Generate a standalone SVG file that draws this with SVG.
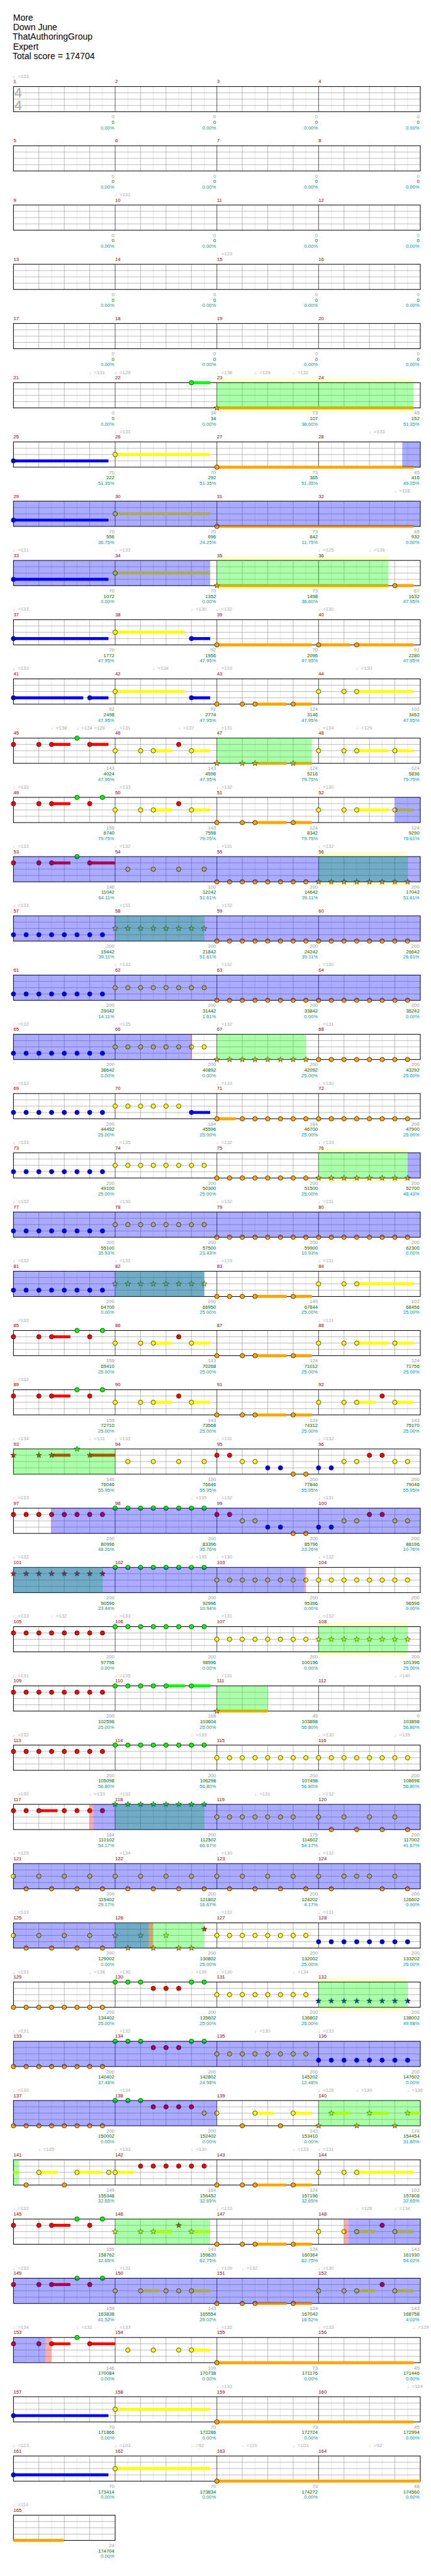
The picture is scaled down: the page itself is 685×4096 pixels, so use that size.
<svg xmlns="http://www.w3.org/2000/svg" xmlns:xlink="http://www.w3.org/1999/xlink" width="685" height="4096" viewBox="0 0 685 4096">
<style>
text{font-family:"Liberation Sans","DejaVu Sans",sans-serif;font-size:11.5px}
.t{font-size:21px;fill:#000}
.mn{fill:#8b0000}
.tp{fill:#aaa}
.s1,.s2,.s3{text-anchor:end}
.s1{fill:#999}.s2{fill:#006400}.s3{fill:#009a9a}
.ts{font-size:33px;fill:#aaa}
.g{fill:#0f0;stroke:#0f0}.r{fill:#f00;stroke:#f00}.y{fill:#ff0;stroke:#ff0}.b{fill:#00f;stroke:#00f}.o{fill:#ffa500;stroke:#ffa500}
circle{stroke:#000;stroke-width:1;r:5.3px}
use.n{stroke:#000;stroke-width:.8}
path.s{fill:none;stroke-width:7}
.og{fill:#0f0;fill-opacity:.33}.ob{fill:#00f;fill-opacity:.33}.or{fill:#f00;fill-opacity:.33}.pl{fill:#ffc}
</style>
<defs>
<path id="st" d="M0-7L1.65-2.27 6.66-2.16 2.66.87 4.11 5.66 0 2.8-4.11 5.66-2.66.87-6.66-2.16-1.65-2.27Z"/>
<g id="stf">
<rect x="32" width="968" height="60" fill="#fff"/>
<path fill="none" stroke="#ddd" stroke-width="1" d="M62.25 0V60M122.75 0V60M183.25 0V60M243.75 0V60M304.25 0V60M364.75 0V60M425.25 0V60M485.75 0V60M546.25 0V60M606.75 0V60M667.25 0V60M727.75 0V60M788.25 0V60M848.75 0V60M909.25 0V60M969.75 0V60"/>
<path fill="none" stroke="#999" stroke-width="1" d="M92.5 0V60M153 0V60M213.5 0V60M334.5 0V60M395 0V60M455.5 0V60M576.5 0V60M637 0V60M697.5 0V60M818.5 0V60M879 0V60M939.5 0V60M32 15H1000M32 30H1000M32 45H1000"/>
<path fill="none" stroke="#000" stroke-width="1" d="M274 0V60M516 0V60M758 0V60"/>
<rect x="32" width="968" height="60" fill="none" stroke="#000" stroke-width="1.5"/>
</g>
<g id="stf1">
<rect x="32" width="242" height="60" fill="#fff"/>
<path fill="none" stroke="#ddd" stroke-width="1" d="M62.25 0V60M122.75 0V60M183.25 0V60M243.75 0V60"/>
<path fill="none" stroke="#999" stroke-width="1" d="M92.5 0V60M153 0V60M213.5 0V60M32 15H274M32 30H274M32 45H274"/>
<rect x="32" width="242" height="60" fill="none" stroke="#000" stroke-width="1.5"/>
</g>
</defs>
<rect width="685" height="4096" fill="#fff"/>
<g transform="scale(0.668)">
<g id="header">
<text class="t" x="31" y="49">More</text>
<text class="t" x="31" y="72">Down June</text>
<text class="t" x="30" y="95">ThatAuthoringGroup</text>
<text class="t" x="31" y="118">Expert</text>
<text class="t" x="30" y="141">Total score = 174704</text>
</g>

<g id="r0" transform="translate(0,206)">
<use href="#stf"/>
<text class="ts" x="34" y="26">4</text><text class="ts" x="34" y="56">4</text>
<text class="tp" y="-21"><tspan x="31">♩=133</tspan></text>
<text class="mn" y="-8"><tspan x="32">1</tspan><tspan x="274">2</tspan><tspan x="516">3</tspan><tspan x="758">4</tspan></text>
<text class="s1" y="76"><tspan x="272">0</tspan><tspan x="514">0</tspan><tspan x="756">0</tspan><tspan x="998">0</tspan></text>
<text class="s2" y="89"><tspan x="272">0</tspan><tspan x="514">0</tspan><tspan x="756">0</tspan><tspan x="998">0</tspan></text>
<text class="s3" y="102"><tspan x="272">0.00%</tspan><tspan x="514">0.00%</tspan><tspan x="756">0.00%</tspan><tspan x="998">0.00%</tspan></text>
</g>

<g id="r1" transform="translate(0,347)">
<use href="#stf"/>
<text class="mn" y="-8"><tspan x="32">5</tspan><tspan x="274">6</tspan><tspan x="516">7</tspan><tspan x="758">8</tspan></text>
<text class="s1" y="76"><tspan x="272">0</tspan><tspan x="514">0</tspan><tspan x="756">0</tspan><tspan x="998">0</tspan></text>
<text class="s2" y="89"><tspan x="272">0</tspan><tspan x="514">0</tspan><tspan x="756">0</tspan><tspan x="998">0</tspan></text>
<text class="s3" y="102"><tspan x="272">0.00%</tspan><tspan x="514">0.00%</tspan><tspan x="756">0.00%</tspan><tspan x="998">0.00%</tspan></text>
</g>

<g id="r2" transform="translate(0,488)">
<use href="#stf"/>
<text class="tp" y="-21"><tspan x="273">♩=131</tspan></text>
<text class="mn" y="-8"><tspan x="32">9</tspan><tspan x="274">10</tspan><tspan x="516">11</tspan><tspan x="758">12</tspan></text>
<text class="s1" y="76"><tspan x="272">0</tspan><tspan x="514">0</tspan><tspan x="756">0</tspan><tspan x="998">0</tspan></text>
<text class="s2" y="89"><tspan x="272">0</tspan><tspan x="514">0</tspan><tspan x="756">0</tspan><tspan x="998">0</tspan></text>
<text class="s3" y="102"><tspan x="272">0.00%</tspan><tspan x="514">0.00%</tspan><tspan x="756">0.00%</tspan><tspan x="998">0.00%</tspan></text>
</g>

<g id="r3" transform="translate(0,629)">
<use href="#stf"/>
<text class="tp" y="-21"><tspan x="515">♩=133</tspan></text>
<text class="mn" y="-8"><tspan x="32">13</tspan><tspan x="274">14</tspan><tspan x="516">15</tspan><tspan x="758">16</tspan></text>
<text class="s1" y="76"><tspan x="272">0</tspan><tspan x="514">0</tspan><tspan x="756">0</tspan><tspan x="998">0</tspan></text>
<text class="s2" y="89"><tspan x="272">0</tspan><tspan x="514">0</tspan><tspan x="756">0</tspan><tspan x="998">0</tspan></text>
<text class="s3" y="102"><tspan x="272">0.00%</tspan><tspan x="514">0.00%</tspan><tspan x="756">0.00%</tspan><tspan x="998">0.00%</tspan></text>
</g>

<g id="r4" transform="translate(0,770)">
<use href="#stf"/>
<text class="mn" y="-8"><tspan x="32">17</tspan><tspan x="274">18</tspan><tspan x="516">19</tspan><tspan x="758">20</tspan></text>
<text class="s1" y="76"><tspan x="272">0</tspan><tspan x="514">0</tspan><tspan x="756">0</tspan><tspan x="998">0</tspan></text>
<text class="s2" y="89"><tspan x="272">0</tspan><tspan x="514">0</tspan><tspan x="756">0</tspan><tspan x="998">0</tspan></text>
<text class="s3" y="102"><tspan x="272">0.00%</tspan><tspan x="514">0.00%</tspan><tspan x="756">0.00%</tspan><tspan x="998">0.00%</tspan></text>
</g>

<g id="r5" transform="translate(0,911)">
<rect class="pl" x="516" y="-10" width="468" height="80"/>
<use href="#stf"/>
<g class="g"><path class="s" d="M455.5 0H500"/><circle cx="455.5"/></g>
<g class="o" transform="translate(0,60)"><path class="s" d="M516 0H984"/><use class="n" href="#st" x="516"/></g>
<rect class="og" x="516" width="468" height="60"/>
<text class="tp" y="-21"><tspan x="212.5">♩=131</tspan><tspan x="273">♩=129</tspan><tspan x="515">♩=138</tspan><tspan x="605.75">♩=129</tspan><tspan x="696.5">♩=132</tspan></text>
<text class="mn" y="-8"><tspan x="32">21</tspan><tspan x="274">22</tspan><tspan x="516">23</tspan><tspan x="758">24</tspan></text>
<text class="s1" y="76"><tspan x="272">0</tspan><tspan x="514">34</tspan><tspan x="756">73</tspan><tspan x="998">45</tspan></text>
<text class="s2" y="89"><tspan x="272">0</tspan><tspan x="514">34</tspan><tspan x="756">107</tspan><tspan x="998">152</tspan></text>
<text class="s3" y="102"><tspan x="272">0.00%</tspan><tspan x="514">0.00%</tspan><tspan x="756">38.60%</tspan><tspan x="998">51.35%</tspan></text>
</g>

<g id="r6" transform="translate(0,1052)">
<use href="#stf"/>
<g class="b" transform="translate(0,45)"><path class="s" d="M32 0H258"/><circle cx="32"/></g>
<g class="y" transform="translate(0,30)"><path class="s" d="M274 0H500"/><circle cx="274"/></g>
<g class="o" transform="translate(0,60)"><path class="s" d="M516 0H984"/><circle cx="516"/></g>
<rect class="ob" x="957" width="43" height="60"/>
<text class="tp" y="-21"><tspan x="273">♩=131</tspan><tspan x="878">♩=133</tspan></text>
<text class="mn" y="-8"><tspan x="32">25</tspan><tspan x="274">26</tspan><tspan x="516">27</tspan><tspan x="758">28</tspan></text>
<text class="s1" y="76"><tspan x="272">70</tspan><tspan x="514">70</tspan><tspan x="756">73</tspan><tspan x="998">45</tspan></text>
<text class="s2" y="89"><tspan x="272">222</tspan><tspan x="514">292</tspan><tspan x="756">365</tspan><tspan x="998">416</tspan></text>
<text class="s3" y="102"><tspan x="272">51.35%</tspan><tspan x="514">51.35%</tspan><tspan x="756">51.35%</tspan><tspan x="998">49.25%</tspan></text>
</g>

<g id="r7" transform="translate(0,1193)">
<use href="#stf"/>
<g class="b" transform="translate(0,45)"><path class="s" d="M32 0H258"/><circle cx="32"/></g>
<g class="y" transform="translate(0,30)"><path class="s" d="M274 0H500"/><circle cx="274"/></g>
<g class="o" transform="translate(0,60)"><path class="s" d="M516 0H984"/><circle cx="516"/></g>
<rect class="ob" x="32" width="968" height="60"/>
<text class="tp" y="-21"><tspan x="938.5">♩=128</tspan></text>
<text class="mn" y="-8"><tspan x="32">29</tspan><tspan x="274">30</tspan><tspan x="516">31</tspan><tspan x="758">32</tspan></text>
<text class="s1" y="76"><tspan x="272">70</tspan><tspan x="514">70</tspan><tspan x="756">73</tspan><tspan x="998">45</tspan></text>
<text class="s2" y="89"><tspan x="272">556</tspan><tspan x="514">696</tspan><tspan x="756">842</tspan><tspan x="998">932</tspan></text>
<text class="s3" y="102"><tspan x="272">36.75%</tspan><tspan x="514">24.25%</tspan><tspan x="756">11.75%</tspan><tspan x="998">0.00%</tspan></text>
</g>

<g id="r8" transform="translate(0,1334)">
<rect class="pl" x="516" y="-10" width="408" height="80"/>
<use href="#stf"/>
<g class="b" transform="translate(0,45)"><path class="s" d="M32 0H258"/><circle cx="32"/></g>
<g class="y" transform="translate(0,30)"><path class="s" d="M274 0H500"/><circle cx="274"/></g>
<g class="o" transform="translate(0,60)"><path class="s" d="M516 0H924M939.5 0H984"/><use class="n" href="#st" x="516"/><circle cx="939.5"/></g>
<rect class="ob" x="32" width="468" height="60"/>
<rect class="og" x="516" width="408" height="60"/>
<text class="tp" y="-21"><tspan x="31">♩=131</tspan><tspan x="273">♩=133</tspan><tspan x="757">♩=125</tspan><tspan x="878">♩=136</tspan></text>
<text class="mn" y="-8"><tspan x="32">33</tspan><tspan x="274">34</tspan><tspan x="516">35</tspan><tspan x="758">36</tspan></text>
<text class="s1" y="76"><tspan x="272">70</tspan><tspan x="514">70</tspan><tspan x="756">73</tspan><tspan x="998">67</tspan></text>
<text class="s2" y="89"><tspan x="272">1072</tspan><tspan x="514">1352</tspan><tspan x="756">1498</tspan><tspan x="998">1632</tspan></text>
<text class="s3" y="102"><tspan x="272">0.00%</tspan><tspan x="514">0.00%</tspan><tspan x="756">38.60%</tspan><tspan x="998">47.95%</tspan></text>
</g>

<g id="r9" transform="translate(0,1475)">
<use href="#stf"/>
<g class="b" transform="translate(0,45)"><path class="s" d="M32 0H258M455.5 0H500"/><circle cx="32"/><circle cx="455.5"/></g>
<g class="y" transform="translate(0,30)"><path class="s" d="M274 0H440"/><circle cx="274"/></g>
<g class="o" transform="translate(0,60)"><path class="s" d="M516 0H742M758 0H833.5M848.75 0H984"/><circle cx="516"/><circle cx="758"/><circle cx="848.75"/></g>
<text class="tp" y="-21"><tspan x="31">♩=133</tspan><tspan x="454.5">♩=130</tspan><tspan x="515">♩=132</tspan><tspan x="757">♩=130</tspan></text>
<text class="mn" y="-8"><tspan x="32">37</tspan><tspan x="274">38</tspan><tspan x="516">39</tspan><tspan x="758">40</tspan></text>
<text class="s1" y="76"><tspan x="272">70</tspan><tspan x="514">92</tspan><tspan x="756">70</tspan><tspan x="998">92</tspan></text>
<text class="s2" y="89"><tspan x="272">1772</tspan><tspan x="514">1956</tspan><tspan x="756">2096</tspan><tspan x="998">2280</tspan></text>
<text class="s3" y="102"><tspan x="272">47.95%</tspan><tspan x="514">47.95%</tspan><tspan x="756">47.95%</tspan><tspan x="998">47.95%</tspan></text>
</g>

<g id="r10" transform="translate(0,1616)">
<use href="#stf"/>
<g class="b" transform="translate(0,45)"><path class="s" d="M32 0H198M213.5 0H258M455.5 0H500"/><circle cx="32"/><circle cx="213.5"/><circle cx="455.5"/></g>
<g class="y" transform="translate(0,30)"><path class="s" d="M274 0H440M848.75 0H984"/><circle cx="274"/><circle cx="758"/><circle cx="818.5"/><circle cx="848.75"/></g>
<g class="o" transform="translate(0,60)"><path class="s" d="M606.75 0H682M697.5 0H742"/><circle cx="516"/><circle cx="576.5"/><circle cx="606.75"/><circle cx="697.5"/></g>
<text class="tp" y="-21"><tspan x="31">♩=133</tspan><tspan x="363.75">♩=134</tspan><tspan x="515">♩=133</tspan><tspan x="847.75">♩=130</tspan></text>
<text class="mn" y="-8"><tspan x="32">41</tspan><tspan x="274">42</tspan><tspan x="516">43</tspan><tspan x="758">44</tspan></text>
<text class="s1" y="76"><tspan x="272">92</tspan><tspan x="514">92</tspan><tspan x="756">124</tspan><tspan x="998">102</tspan></text>
<text class="s2" y="89"><tspan x="272">2498</tspan><tspan x="514">2774</tspan><tspan x="756">3146</tspan><tspan x="998">3452</tspan></text>
<text class="s3" y="102"><tspan x="272">47.95%</tspan><tspan x="514">47.95%</tspan><tspan x="756">47.95%</tspan><tspan x="998">47.95%</tspan></text>
</g>

<g id="r11" transform="translate(0,1757)">
<use href="#stf"/>
<g class="g"><circle cx="183.25"/></g>
<g class="r" transform="translate(0,15)"><path class="s" d="M122.75 0H167.5M213.5 0H258"/><circle cx="32"/><circle cx="92.5"/><circle cx="122.75"/><circle cx="213.5"/><circle cx="425.25"/></g>
<g class="y" transform="translate(0,30)"><path class="s" d="M364.75 0H409.5M455.5 0H500M848.75 0H924M939.5 0H984"/><circle cx="274"/><circle cx="334.5"/><circle cx="364.75"/><circle cx="455.5"/><circle cx="758"/><circle cx="818.5"/><circle cx="848.75"/><circle cx="939.5"/></g>
<g class="o" transform="translate(0,60)"><path class="s" d="M606.75 0H682M697.5 0H742"/><use class="n" href="#st" x="516"/><use class="n" href="#st" x="576.5"/><use class="n" href="#st" x="606.75"/><use class="n" href="#st" x="697.5"/></g>
<rect class="og" x="516" width="226" height="60"/>
<text class="tp" y="-21"><tspan x="121.75">♩=138</tspan><tspan x="182.25">♩=124</tspan><tspan x="212.5">♩=128</tspan><tspan x="273">♩=131</tspan><tspan x="424.25">♩=137</tspan><tspan x="515">♩=131</tspan><tspan x="757">♩=134</tspan><tspan x="847.75">♩=129</tspan></text>
<text class="mn" y="-8"><tspan x="32">45</tspan><tspan x="274">46</tspan><tspan x="516">47</tspan><tspan x="758">48</tspan></text>
<text class="s1" y="76"><tspan x="272">143</tspan><tspan x="514">143</tspan><tspan x="756">124</tspan><tspan x="998">124</tspan></text>
<text class="s2" y="89"><tspan x="272">4024</tspan><tspan x="514">4596</tspan><tspan x="756">5216</tspan><tspan x="998">5836</tspan></text>
<text class="s3" y="102"><tspan x="272">47.95%</tspan><tspan x="514">47.95%</tspan><tspan x="756">79.75%</tspan><tspan x="998">79.75%</tspan></text>
</g>

<g id="r12" transform="translate(0,1898)">
<use href="#stf"/>
<g class="g"><circle cx="183.25"/><circle cx="243.75"/></g>
<g class="r" transform="translate(0,15)"><path class="s" d="M122.75 0H167.5"/><circle cx="32"/><circle cx="92.5"/><circle cx="122.75"/><circle cx="213.5"/><circle cx="425.25"/></g>
<g class="y" transform="translate(0,30)"><path class="s" d="M364.75 0H409.5M455.5 0H500M848.75 0H924M939.5 0H984"/><circle cx="274"/><circle cx="334.5"/><circle cx="364.75"/><circle cx="455.5"/><circle cx="758"/><circle cx="818.5"/><circle cx="848.75"/><circle cx="939.5"/></g>
<g class="o" transform="translate(0,60)"><path class="s" d="M606.75 0H682M697.5 0H742"/><circle cx="516"/><circle cx="576.5"/><circle cx="606.75"/><circle cx="697.5"/></g>
<rect class="ob" x="939.5" width="60.5" height="60"/>
<text class="tp" y="-21"><tspan x="31">♩=132</tspan><tspan x="273">♩=133</tspan><tspan x="515">♩=132</tspan><tspan x="757">♩=130</tspan></text>
<text class="mn" y="-8"><tspan x="32">49</tspan><tspan x="274">50</tspan><tspan x="516">51</tspan><tspan x="758">52</tspan></text>
<text class="s1" y="76"><tspan x="272">159</tspan><tspan x="514">143</tspan><tspan x="756">124</tspan><tspan x="998">124</tspan></text>
<text class="s2" y="89"><tspan x="272">6740</tspan><tspan x="514">7598</tspan><tspan x="756">8342</tspan><tspan x="998">9290</tspan></text>
<text class="s3" y="102"><tspan x="272">79.75%</tspan><tspan x="514">79.75%</tspan><tspan x="756">79.75%</tspan><tspan x="998">76.61%</tspan></text>
</g>

<g id="r13" transform="translate(0,2039)">
<rect class="pl" x="758" y="-10" width="212" height="80"/>
<use href="#stf"/>
<g class="g"><circle cx="183.25"/></g>
<g class="r" transform="translate(0,15)"><path class="s" d="M122.75 0H167.5M213.5 0H274"/><circle cx="32"/><circle cx="92.5"/><circle cx="122.75"/><circle cx="213.5"/></g>
<g class="y" transform="translate(0,30)"><circle cx="304.25"/><circle cx="364.75"/><circle cx="425.25"/><circle cx="485.75"/></g>
<g class="o" transform="translate(0,60)"><circle cx="516"/><circle cx="546.25"/><circle cx="576.5"/><circle cx="606.75"/><circle cx="637"/><circle cx="667.25"/><circle cx="697.5"/><circle cx="727.75"/><use class="n" href="#st" x="758"/><use class="n" href="#st" x="788.25"/><use class="n" href="#st" x="818.5"/><use class="n" href="#st" x="848.75"/><use class="n" href="#st" x="879"/><use class="n" href="#st" x="909.25"/><use class="n" href="#st" x="939.5"/><use class="n" href="#st" x="969.75"/></g>
<rect class="og" x="758" width="212" height="60"/>
<rect class="ob" x="32" width="968" height="60"/>
<text class="tp" y="-21"><tspan x="31">♩=133</tspan><tspan x="273">♩=132</tspan><tspan x="515">♩=131</tspan><tspan x="757">♩=132</tspan></text>
<text class="mn" y="-8"><tspan x="32">53</tspan><tspan x="274">54</tspan><tspan x="516">55</tspan><tspan x="758">56</tspan></text>
<text class="s1" y="76"><tspan x="272">146</tspan><tspan x="514">100</tspan><tspan x="756">200</tspan><tspan x="998">200</tspan></text>
<text class="s2" y="89"><tspan x="272">11042</tspan><tspan x="514">12242</tspan><tspan x="756">14642</tspan><tspan x="998">17042</tspan></text>
<text class="s3" y="102"><tspan x="272">64.11%</tspan><tspan x="514">51.61%</tspan><tspan x="756">39.11%</tspan><tspan x="998">51.61%</tspan></text>
</g>

<g id="r14" transform="translate(0,2180)">
<use href="#stf"/>
<g class="b" transform="translate(0,45)"><circle cx="32"/><circle cx="62.25"/><circle cx="92.5"/><circle cx="122.75"/><circle cx="153"/><circle cx="183.25"/><circle cx="213.5"/><circle cx="243.75"/></g>
<g class="y" transform="translate(0,30)"><use class="n" href="#st" x="274"/><use class="n" href="#st" x="304.25"/><use class="n" href="#st" x="334.5"/><use class="n" href="#st" x="364.75"/><use class="n" href="#st" x="395"/><use class="n" href="#st" x="425.25"/><use class="n" href="#st" x="455.5"/><use class="n" href="#st" x="485.75"/></g>
<g class="o" transform="translate(0,60)"><circle cx="516"/><circle cx="546.25"/><circle cx="576.5"/><circle cx="606.75"/><circle cx="637"/><circle cx="667.25"/><circle cx="697.5"/><circle cx="727.75"/><circle cx="758"/><circle cx="788.25"/><circle cx="818.5"/><circle cx="848.75"/><circle cx="879"/><circle cx="909.25"/><circle cx="939.5"/><circle cx="969.75"/></g>
<rect class="og" x="274" width="212" height="60"/>
<rect class="ob" x="32" width="968" height="60"/>
<text class="tp" y="-21"><tspan x="31">♩=133</tspan><tspan x="273">♩=131</tspan><tspan x="515">♩=132</tspan></text>
<text class="mn" y="-8"><tspan x="32">57</tspan><tspan x="274">58</tspan><tspan x="516">59</tspan><tspan x="758">60</tspan></text>
<text class="s1" y="76"><tspan x="272">200</tspan><tspan x="514">200</tspan><tspan x="756">200</tspan><tspan x="998">200</tspan></text>
<text class="s2" y="89"><tspan x="272">19442</tspan><tspan x="514">21842</tspan><tspan x="756">24242</tspan><tspan x="998">26642</tspan></text>
<text class="s3" y="102"><tspan x="272">39.11%</tspan><tspan x="514">51.61%</tspan><tspan x="756">39.11%</tspan><tspan x="998">26.61%</tspan></text>
</g>

<g id="r15" transform="translate(0,2321)">
<use href="#stf"/>
<g class="b" transform="translate(0,45)"><circle cx="32"/><circle cx="62.25"/><circle cx="92.5"/><circle cx="122.75"/><circle cx="153"/><circle cx="183.25"/><circle cx="213.5"/><circle cx="243.75"/></g>
<g class="y" transform="translate(0,30)"><circle cx="274"/><circle cx="304.25"/><circle cx="334.5"/><circle cx="364.75"/><circle cx="395"/><circle cx="425.25"/><circle cx="455.5"/><circle cx="485.75"/></g>
<g class="o" transform="translate(0,60)"><circle cx="516"/><circle cx="546.25"/><circle cx="576.5"/><circle cx="606.75"/><circle cx="637"/><circle cx="667.25"/><circle cx="697.5"/><circle cx="727.75"/><circle cx="758"/><circle cx="788.25"/><circle cx="818.5"/><circle cx="848.75"/><circle cx="879"/><circle cx="909.25"/><circle cx="939.5"/><circle cx="969.75"/></g>
<rect class="ob" x="32" width="968" height="60"/>
<text class="tp" y="-21"><tspan x="273">♩=133</tspan><tspan x="515">♩=132</tspan><tspan x="757">♩=130</tspan></text>
<text class="mn" y="-8"><tspan x="32">61</tspan><tspan x="274">62</tspan><tspan x="516">63</tspan><tspan x="758">64</tspan></text>
<text class="s1" y="76"><tspan x="272">200</tspan><tspan x="514">200</tspan><tspan x="756">200</tspan><tspan x="998">200</tspan></text>
<text class="s2" y="89"><tspan x="272">29042</tspan><tspan x="514">31442</tspan><tspan x="756">33842</tspan><tspan x="998">36242</tspan></text>
<text class="s3" y="102"><tspan x="272">14.11%</tspan><tspan x="514">1.61%</tspan><tspan x="756">0.00%</tspan><tspan x="998">0.00%</tspan></text>
</g>

<g id="r16" transform="translate(0,2462)">
<use href="#stf"/>
<g class="b" transform="translate(0,45)"><circle cx="32"/><circle cx="62.25"/><circle cx="92.5"/><circle cx="122.75"/><circle cx="153"/><circle cx="183.25"/><circle cx="213.5"/><circle cx="243.75"/></g>
<g class="y" transform="translate(0,30)"><circle cx="274"/><circle cx="304.25"/><circle cx="334.5"/><circle cx="364.75"/><circle cx="395"/><circle cx="425.25"/><circle cx="455.5"/><circle cx="485.75"/></g>
<g class="o" transform="translate(0,60)"><use class="n" href="#st" x="516"/><use class="n" href="#st" x="546.25"/><use class="n" href="#st" x="576.5"/><use class="n" href="#st" x="606.75"/><use class="n" href="#st" x="637"/><use class="n" href="#st" x="667.25"/><use class="n" href="#st" x="697.5"/><use class="n" href="#st" x="727.75"/><circle cx="758"/><circle cx="788.25"/><circle cx="818.5"/><circle cx="848.75"/><circle cx="879"/><circle cx="909.25"/><circle cx="939.5"/><circle cx="969.75"/></g>
<rect class="ob" x="32" width="423.5" height="60"/>
<rect class="or" x="454.5" width="2" height="60"/>
<rect class="og" x="516" width="212" height="60"/>
<text class="tp" y="-21"><tspan x="31">♩=132</tspan><tspan x="273">♩=135</tspan><tspan x="515">♩=132</tspan><tspan x="757">♩=131</tspan></text>
<text class="mn" y="-8"><tspan x="32">65</tspan><tspan x="274">66</tspan><tspan x="516">67</tspan><tspan x="758">68</tspan></text>
<text class="s1" y="76"><tspan x="272">200</tspan><tspan x="514">200</tspan><tspan x="756">200</tspan><tspan x="998">200</tspan></text>
<text class="s2" y="89"><tspan x="272">38642</tspan><tspan x="514">40892</tspan><tspan x="756">42092</tspan><tspan x="998">43292</tspan></text>
<text class="s3" y="102"><tspan x="272">0.00%</tspan><tspan x="514">0.00%</tspan><tspan x="756">25.00%</tspan><tspan x="998">25.00%</tspan></text>
</g>

<g id="r17" transform="translate(0,2603)">
<use href="#stf"/>
<g class="b" transform="translate(0,45)"><path class="s" d="M455.5 0H500"/><circle cx="32"/><circle cx="62.25"/><circle cx="92.5"/><circle cx="122.75"/><circle cx="153"/><circle cx="183.25"/><circle cx="213.5"/><circle cx="243.75"/><circle cx="455.5"/></g>
<g class="y" transform="translate(0,30)"><circle cx="274"/><circle cx="304.25"/><circle cx="334.5"/><circle cx="364.75"/><circle cx="395"/><circle cx="425.25"/></g>
<g class="o" transform="translate(0,60)"><path class="s" d="M516 0H560.6"/><circle cx="516"/><circle cx="576.5"/><circle cx="606.75"/><circle cx="637"/><circle cx="667.25"/><circle cx="697.5"/><circle cx="727.75"/><circle cx="758"/><circle cx="788.25"/><circle cx="818.5"/><circle cx="848.75"/><circle cx="879"/><circle cx="909.25"/><circle cx="939.5"/><circle cx="969.75"/></g>
<text class="tp" y="-21"><tspan x="31">♩=132</tspan><tspan x="515">♩=133</tspan><tspan x="757">♩=130</tspan></text>
<text class="mn" y="-8"><tspan x="32">69</tspan><tspan x="274">70</tspan><tspan x="516">71</tspan><tspan x="758">72</tspan></text>
<text class="s1" y="76"><tspan x="272">200</tspan><tspan x="514">184</tspan><tspan x="756">184</tspan><tspan x="998">200</tspan></text>
<text class="s2" y="89"><tspan x="272">44492</tspan><tspan x="514">45596</tspan><tspan x="756">46700</tspan><tspan x="998">47900</tspan></text>
<text class="s3" y="102"><tspan x="272">25.00%</tspan><tspan x="514">25.00%</tspan><tspan x="756">25.00%</tspan><tspan x="998">25.00%</tspan></text>
</g>

<g id="r18" transform="translate(0,2744)">
<rect class="pl" x="758" y="-10" width="212" height="80"/>
<use href="#stf"/>
<g class="b" transform="translate(0,45)"><circle cx="32"/><circle cx="62.25"/><circle cx="92.5"/><circle cx="122.75"/><circle cx="153"/><circle cx="183.25"/><circle cx="213.5"/><circle cx="243.75"/></g>
<g class="y" transform="translate(0,30)"><circle cx="274"/><circle cx="304.25"/><circle cx="334.5"/><circle cx="364.75"/><circle cx="395"/><circle cx="425.25"/><circle cx="455.5"/><circle cx="485.75"/></g>
<g class="o" transform="translate(0,60)"><circle cx="516"/><circle cx="546.25"/><circle cx="576.5"/><circle cx="606.75"/><circle cx="637"/><circle cx="667.25"/><circle cx="697.5"/><circle cx="727.75"/><use class="n" href="#st" x="758"/><use class="n" href="#st" x="788.25"/><use class="n" href="#st" x="818.5"/><use class="n" href="#st" x="848.75"/><use class="n" href="#st" x="879"/><use class="n" href="#st" x="909.25"/><use class="n" href="#st" x="939.5"/><use class="n" href="#st" x="969.75"/></g>
<rect class="og" x="758" width="212" height="60"/>
<rect class="ob" x="970" width="30" height="60"/>
<text class="tp" y="-21"><tspan x="31">♩=133</tspan><tspan x="273">♩=135</tspan><tspan x="515">♩=132</tspan><tspan x="757">♩=133</tspan></text>
<text class="mn" y="-8"><tspan x="32">73</tspan><tspan x="274">74</tspan><tspan x="516">75</tspan><tspan x="758">76</tspan></text>
<text class="s1" y="76"><tspan x="272">200</tspan><tspan x="514">200</tspan><tspan x="756">200</tspan><tspan x="998">200</tspan></text>
<text class="s2" y="89"><tspan x="272">49100</tspan><tspan x="514">50300</tspan><tspan x="756">51500</tspan><tspan x="998">52700</tspan></text>
<text class="s3" y="102"><tspan x="272">25.00%</tspan><tspan x="514">25.00%</tspan><tspan x="756">25.00%</tspan><tspan x="998">48.43%</tspan></text>
</g>

<g id="r19" transform="translate(0,2885)">
<use href="#stf"/>
<g class="b" transform="translate(0,45)"><circle cx="32"/><circle cx="62.25"/><circle cx="92.5"/><circle cx="122.75"/><circle cx="153"/><circle cx="183.25"/><circle cx="213.5"/><circle cx="243.75"/></g>
<g class="y" transform="translate(0,30)"><circle cx="274"/><circle cx="304.25"/><circle cx="334.5"/><circle cx="364.75"/><circle cx="395"/><circle cx="425.25"/><circle cx="455.5"/><circle cx="485.75"/></g>
<g class="o" transform="translate(0,60)"><circle cx="516"/><circle cx="546.25"/><circle cx="576.5"/><circle cx="606.75"/><circle cx="637"/><circle cx="667.25"/><circle cx="697.5"/><circle cx="727.75"/><circle cx="758"/><circle cx="788.25"/><circle cx="818.5"/><circle cx="848.75"/><circle cx="879"/><circle cx="909.25"/><circle cx="939.5"/><circle cx="969.75"/></g>
<rect class="ob" x="32" width="968" height="60"/>
<text class="tp" y="-21"><tspan x="31">♩=132</tspan><tspan x="273">♩=130</tspan><tspan x="515">♩=132</tspan><tspan x="757">♩=131</tspan></text>
<text class="mn" y="-8"><tspan x="32">77</tspan><tspan x="274">78</tspan><tspan x="516">79</tspan><tspan x="758">80</tspan></text>
<text class="s1" y="76"><tspan x="272">200</tspan><tspan x="514">200</tspan><tspan x="756">200</tspan><tspan x="998">200</tspan></text>
<text class="s2" y="89"><tspan x="272">55100</tspan><tspan x="514">57500</tspan><tspan x="756">59900</tspan><tspan x="998">62300</tspan></text>
<text class="s3" y="102"><tspan x="272">35.93%</tspan><tspan x="514">23.43%</tspan><tspan x="756">10.93%</tspan><tspan x="998">0.00%</tspan></text>
</g>

<g id="r20" transform="translate(0,3026)">
<use href="#stf"/>
<g class="b" transform="translate(0,45)"><circle cx="32"/><circle cx="62.25"/><circle cx="92.5"/><circle cx="122.75"/><circle cx="153"/><circle cx="183.25"/><circle cx="213.5"/><circle cx="243.75"/></g>
<g class="y" transform="translate(0,30)"><path class="s" d="M848.75 0H984"/><use class="n" href="#st" x="274"/><use class="n" href="#st" x="304.25"/><use class="n" href="#st" x="334.5"/><use class="n" href="#st" x="364.75"/><use class="n" href="#st" x="395"/><use class="n" href="#st" x="425.25"/><use class="n" href="#st" x="455.5"/><use class="n" href="#st" x="485.75"/><circle cx="758"/><circle cx="818.5"/><circle cx="848.75"/></g>
<g class="o" transform="translate(0,60)"><path class="s" d="M606.75 0H682M697.5 0H742"/><circle cx="516"/><circle cx="546.25"/><circle cx="576.5"/><circle cx="606.75"/><circle cx="697.5"/></g>
<rect class="og" x="274" width="212" height="60"/>
<rect class="ob" x="32" width="454" height="60"/>
<text class="tp" y="-21"><tspan x="31">♩=132</tspan><tspan x="273">♩=131</tspan><tspan x="515">♩=133</tspan><tspan x="757">♩=131</tspan></text>
<text class="mn" y="-8"><tspan x="32">81</tspan><tspan x="274">82</tspan><tspan x="516">83</tspan><tspan x="758">84</tspan></text>
<text class="s1" y="76"><tspan x="272">200</tspan><tspan x="514">200</tspan><tspan x="756">149</tspan><tspan x="998">102</tspan></text>
<text class="s2" y="89"><tspan x="272">64700</tspan><tspan x="514">66950</tspan><tspan x="756">67844</tspan><tspan x="998">68456</tspan></text>
<text class="s3" y="102"><tspan x="272">0.00%</tspan><tspan x="514">25.00%</tspan><tspan x="756">25.00%</tspan><tspan x="998">25.00%</tspan></text>
</g>

<g id="r21" transform="translate(0,3167)">
<use href="#stf"/>
<g class="g"><circle cx="183.25"/><circle cx="243.75"/></g>
<g class="r" transform="translate(0,15)"><path class="s" d="M122.75 0H167.5"/><circle cx="32"/><circle cx="92.5"/><circle cx="122.75"/><circle cx="213.5"/><circle cx="425.25"/></g>
<g class="y" transform="translate(0,30)"><path class="s" d="M364.75 0H409.5M455.5 0H500M848.75 0H924M939.5 0H984"/><circle cx="274"/><circle cx="334.5"/><circle cx="364.75"/><circle cx="455.5"/><circle cx="758"/><circle cx="818.5"/><circle cx="848.75"/><circle cx="939.5"/></g>
<g class="o" transform="translate(0,60)"><path class="s" d="M606.75 0H682M697.5 0H742"/><circle cx="516"/><circle cx="576.5"/><circle cx="606.75"/><circle cx="697.5"/></g>
<text class="tp" y="-21"><tspan x="31">♩=132</tspan><tspan x="757">♩=131</tspan></text>
<text class="mn" y="-8"><tspan x="32">85</tspan><tspan x="274">86</tspan><tspan x="516">87</tspan><tspan x="758">88</tspan></text>
<text class="s1" y="76"><tspan x="272">159</tspan><tspan x="514">143</tspan><tspan x="756">124</tspan><tspan x="998">124</tspan></text>
<text class="s2" y="89"><tspan x="272">69410</tspan><tspan x="514">70268</tspan><tspan x="756">71012</tspan><tspan x="998">71756</tspan></text>
<text class="s3" y="102"><tspan x="272">25.00%</tspan><tspan x="514">25.00%</tspan><tspan x="756">25.00%</tspan><tspan x="998">25.00%</tspan></text>
</g>

<g id="r22" transform="translate(0,3308)">
<use href="#stf"/>
<g class="g"><circle cx="183.25"/><circle cx="243.75"/></g>
<g class="r" transform="translate(0,15)"><path class="s" d="M122.75 0H167.5"/><circle cx="32"/><circle cx="92.5"/><circle cx="122.75"/><circle cx="213.5"/><circle cx="425.25"/><circle cx="909.25"/></g>
<g class="y" transform="translate(0,30)"><path class="s" d="M364.75 0H409.5M455.5 0H500M848.75 0H893.5M939.5 0H984"/><circle cx="274"/><circle cx="334.5"/><circle cx="364.75"/><circle cx="455.5"/><circle cx="758"/><circle cx="818.5"/><circle cx="848.75"/><circle cx="939.5"/></g>
<g class="o" transform="translate(0,60)"><path class="s" d="M606.75 0H682M697.5 0H742"/><circle cx="516"/><circle cx="576.5"/><circle cx="606.75"/><circle cx="697.5"/></g>
<text class="tp" y="-21"><tspan x="31">♩=132</tspan></text>
<text class="mn" y="-8"><tspan x="32">89</tspan><tspan x="274">90</tspan><tspan x="516">91</tspan><tspan x="758">92</tspan></text>
<text class="s1" y="76"><tspan x="272">159</tspan><tspan x="514">143</tspan><tspan x="756">124</tspan><tspan x="998">143</tspan></text>
<text class="s2" y="89"><tspan x="272">72710</tspan><tspan x="514">73568</tspan><tspan x="756">74312</tspan><tspan x="998">75170</tspan></text>
<text class="s3" y="102"><tspan x="272">25.00%</tspan><tspan x="514">25.00%</tspan><tspan x="756">25.00%</tspan><tspan x="998">25.00%</tspan></text>
</g>

<g id="r23" transform="translate(0,3449)">
<use href="#stf"/>
<g class="g"><use class="n" href="#st" x="183.25"/></g>
<g class="r" transform="translate(0,15)"><path class="s" d="M122.75 0H167.5M213.5 0H274"/><use class="n" href="#st" x="32"/><use class="n" href="#st" x="92.5"/><use class="n" href="#st" x="122.75"/><use class="n" href="#st" x="213.5"/><circle cx="516"/><circle cx="546.25"/><circle cx="879"/><circle cx="909.25"/></g>
<g class="y" transform="translate(0,30)"><circle cx="304.25"/><circle cx="364.75"/><circle cx="425.25"/><circle cx="485.75"/><circle cx="576.5"/><circle cx="606.75"/><circle cx="818.5"/><circle cx="848.75"/><circle cx="939.5"/><circle cx="969.75"/></g>
<g class="b" transform="translate(0,45)"><circle cx="637"/><circle cx="667.25"/><circle cx="758"/><circle cx="788.25"/></g>
<g class="o" transform="translate(0,60)"><circle cx="697.5"/><circle cx="727.75"/></g>
<rect class="og" x="32" width="242" height="60"/>
<text class="tp" y="-21"><tspan x="31">♩=134</tspan><tspan x="212.5">♩=131</tspan><tspan x="273">♩=133</tspan><tspan x="515">♩=131</tspan><tspan x="757">♩=132</tspan></text>
<text class="mn" y="-8"><tspan x="32">93</tspan><tspan x="274">94</tspan><tspan x="516">95</tspan><tspan x="758">96</tspan></text>
<text class="s1" y="76"><tspan x="272">146</tspan><tspan x="514">100</tspan><tspan x="756">200</tspan><tspan x="998">200</tspan></text>
<text class="s2" y="89"><tspan x="272">76046</tspan><tspan x="514">76646</tspan><tspan x="756">77846</tspan><tspan x="998">79046</tspan></text>
<text class="s3" y="102"><tspan x="272">55.95%</tspan><tspan x="514">55.95%</tspan><tspan x="756">55.95%</tspan><tspan x="998">55.95%</tspan></text>
</g>

<g id="r24" transform="translate(0,3590)">
<use href="#stf"/>
<g class="r" transform="translate(0,15)"><circle cx="32"/><circle cx="62.25"/><circle cx="92.5"/><circle cx="122.75"/><circle cx="153"/><circle cx="183.25"/><circle cx="213.5"/><circle cx="243.75"/><circle cx="516"/><circle cx="546.25"/><circle cx="879"/><circle cx="909.25"/></g>
<g class="g"><circle cx="274"/><circle cx="304.25"/><circle cx="334.5"/><circle cx="364.75"/><circle cx="395"/><circle cx="425.25"/><circle cx="455.5"/><circle cx="485.75"/></g>
<g class="y" transform="translate(0,30)"><circle cx="576.5"/><circle cx="606.75"/><circle cx="818.5"/><circle cx="848.75"/><circle cx="939.5"/><circle cx="969.75"/></g>
<g class="b" transform="translate(0,45)"><circle cx="637"/><circle cx="667.25"/><circle cx="758"/><circle cx="788.25"/></g>
<g class="o" transform="translate(0,60)"><circle cx="697.5"/><circle cx="727.75"/></g>
<rect class="or" x="121" width="2" height="60"/>
<rect class="ob" x="122.75" width="877.25" height="60"/>
<text class="tp" y="-21"><tspan x="31">♩=133</tspan><tspan x="454.5">♩=135</tspan><tspan x="515">♩=132</tspan><tspan x="757">♩=131</tspan></text>
<text class="mn" y="-8"><tspan x="32">97</tspan><tspan x="274">98</tspan><tspan x="516">99</tspan><tspan x="758">100</tspan></text>
<text class="s1" y="76"><tspan x="272">200</tspan><tspan x="514">200</tspan><tspan x="756">200</tspan><tspan x="998">200</tspan></text>
<text class="s2" y="89"><tspan x="272">80996</tspan><tspan x="514">83396</tspan><tspan x="756">85796</tspan><tspan x="998">88196</tspan></text>
<text class="s3" y="102"><tspan x="272">48.26%</tspan><tspan x="514">35.76%</tspan><tspan x="756">23.26%</tspan><tspan x="998">10.76%</tspan></text>
</g>

<g id="r25" transform="translate(0,3731)">
<use href="#stf"/>
<g class="r" transform="translate(0,15)"><use class="n" href="#st" x="32"/><use class="n" href="#st" x="62.25"/><use class="n" href="#st" x="92.5"/><use class="n" href="#st" x="122.75"/><use class="n" href="#st" x="153"/><use class="n" href="#st" x="183.25"/><use class="n" href="#st" x="213.5"/><use class="n" href="#st" x="243.75"/></g>
<g class="g"><circle cx="274"/><circle cx="304.25"/><circle cx="334.5"/><circle cx="364.75"/><circle cx="395"/><circle cx="425.25"/><circle cx="455.5"/><circle cx="485.75"/></g>
<g class="y" transform="translate(0,30)"><circle cx="516"/><circle cx="546.25"/><circle cx="576.5"/><circle cx="606.75"/><circle cx="637"/><circle cx="667.25"/><circle cx="697.5"/><circle cx="727.75"/><circle cx="758"/><circle cx="788.25"/><circle cx="818.5"/><circle cx="848.75"/><circle cx="879"/><circle cx="909.25"/><circle cx="939.5"/><circle cx="969.75"/></g>
<rect class="og" x="32" width="212" height="60"/>
<rect class="ob" x="32" width="693" height="60"/>
<rect class="or" x="725" width="3" height="60"/>
<text class="tp" y="-21"><tspan x="31">♩=132</tspan><tspan x="454.5">♩=135</tspan><tspan x="515">♩=130</tspan><tspan x="757">♩=132</tspan></text>
<text class="mn" y="-8"><tspan x="32">101</tspan><tspan x="274">102</tspan><tspan x="516">103</tspan><tspan x="758">104</tspan></text>
<text class="s1" y="76"><tspan x="272">200</tspan><tspan x="514">200</tspan><tspan x="756">200</tspan><tspan x="998">200</tspan></text>
<text class="s2" y="89"><tspan x="272">90596</tspan><tspan x="514">92996</tspan><tspan x="756">95396</tspan><tspan x="998">96596</tspan></text>
<text class="s3" y="102"><tspan x="272">23.44%</tspan><tspan x="514">10.94%</tspan><tspan x="756">0.00%</tspan><tspan x="998">0.00%</tspan></text>
</g>

<g id="r26" transform="translate(0,3872)">
<rect class="pl" x="758" y="-10" width="212" height="80"/>
<use href="#stf"/>
<g class="r" transform="translate(0,15)"><circle cx="32"/><circle cx="62.25"/><circle cx="92.5"/><circle cx="122.75"/><circle cx="153"/><circle cx="183.25"/><circle cx="213.5"/><circle cx="243.75"/></g>
<g class="g"><circle cx="274"/><circle cx="304.25"/><circle cx="334.5"/><circle cx="364.75"/><circle cx="395"/><circle cx="425.25"/><circle cx="455.5"/><circle cx="485.75"/></g>
<g class="y" transform="translate(0,30)"><circle cx="516"/><circle cx="546.25"/><circle cx="576.5"/><circle cx="606.75"/><circle cx="637"/><circle cx="667.25"/><circle cx="697.5"/><circle cx="727.75"/><use class="n" href="#st" x="758"/><use class="n" href="#st" x="788.25"/><use class="n" href="#st" x="818.5"/><use class="n" href="#st" x="848.75"/><use class="n" href="#st" x="879"/><use class="n" href="#st" x="909.25"/><use class="n" href="#st" x="939.5"/><use class="n" href="#st" x="969.75"/></g>
<rect class="og" x="758" width="212" height="60"/>
<text class="tp" y="-21"><tspan x="31">♩=133</tspan><tspan x="121.75">♩=132</tspan><tspan x="273">♩=133</tspan><tspan x="515">♩=131</tspan><tspan x="757">♩=132</tspan></text>
<text class="mn" y="-8"><tspan x="32">105</tspan><tspan x="274">106</tspan><tspan x="516">107</tspan><tspan x="758">108</tspan></text>
<text class="s1" y="76"><tspan x="272">200</tspan><tspan x="514">200</tspan><tspan x="756">200</tspan><tspan x="998">200</tspan></text>
<text class="s2" y="89"><tspan x="272">97796</tspan><tspan x="514">98996</tspan><tspan x="756">100196</tspan><tspan x="998">101396</tspan></text>
<text class="s3" y="102"><tspan x="272">0.00%</tspan><tspan x="514">0.00%</tspan><tspan x="756">0.00%</tspan><tspan x="998">25.00%</tspan></text>
</g>

<g id="r27" transform="translate(0,4013)">
<use href="#stf"/>
<g class="r" transform="translate(0,15)"><circle cx="32"/><circle cx="62.25"/><circle cx="92.5"/><circle cx="122.75"/><circle cx="153"/><circle cx="183.25"/><circle cx="213.5"/><circle cx="243.75"/></g>
<g class="g"><path class="s" d="M395 0H440M455.5 0H500"/><circle cx="274"/><circle cx="304.25"/><circle cx="334.5"/><circle cx="364.75"/><circle cx="395"/><circle cx="455.5"/></g>
<g class="o" transform="translate(0,60)"><path class="s" d="M516 0H637"/><use class="n" href="#st" x="516"/></g>
<rect class="og" x="516" width="121" height="60"/>
<text class="tp" y="-21"><tspan x="31">♩=131</tspan><tspan x="273">♩=135</tspan><tspan x="515">♩=131</tspan><tspan x="938.5">♩=140</tspan></text>
<text class="mn" y="-8"><tspan x="32">109</tspan><tspan x="274">110</tspan><tspan x="516">111</tspan><tspan x="758">112</tspan></text>
<text class="s1" y="76"><tspan x="272">200</tspan><tspan x="514">168</tspan><tspan x="756">49</tspan><tspan x="998">0</tspan></text>
<text class="s2" y="89"><tspan x="272">102596</tspan><tspan x="514">103604</tspan><tspan x="756">103898</tspan><tspan x="998">103898</tspan></text>
<text class="s3" y="102"><tspan x="272">25.00%</tspan><tspan x="514">25.00%</tspan><tspan x="756">56.80%</tspan><tspan x="998">56.80%</tspan></text>
</g>

<g id="r28" transform="translate(0,4154)">
<use href="#stf"/>
<g class="r" transform="translate(0,15)"><circle cx="32"/><circle cx="62.25"/><circle cx="92.5"/><circle cx="122.75"/><circle cx="153"/><circle cx="183.25"/><circle cx="213.5"/><circle cx="243.75"/></g>
<g class="g"><circle cx="274"/><circle cx="304.25"/><circle cx="334.5"/><circle cx="364.75"/><circle cx="395"/><circle cx="425.25"/><circle cx="455.5"/><circle cx="485.75"/></g>
<g class="y" transform="translate(0,30)"><circle cx="516"/><circle cx="546.25"/><circle cx="576.5"/><circle cx="606.75"/><circle cx="637"/><circle cx="667.25"/><circle cx="697.5"/><circle cx="727.75"/><circle cx="758"/><circle cx="788.25"/><circle cx="818.5"/><circle cx="848.75"/><circle cx="879"/><circle cx="909.25"/><circle cx="939.5"/><circle cx="969.75"/></g>
<text class="tp" y="-21"><tspan x="31">♩=132</tspan><tspan x="454.5">♩=133</tspan><tspan x="757">♩=130</tspan><tspan x="938.5">♩=139</tspan></text>
<text class="mn" y="-8"><tspan x="32">113</tspan><tspan x="274">114</tspan><tspan x="516">115</tspan><tspan x="758">116</tspan></text>
<text class="s1" y="76"><tspan x="272">200</tspan><tspan x="514">200</tspan><tspan x="756">200</tspan><tspan x="998">200</tspan></text>
<text class="s2" y="89"><tspan x="272">105098</tspan><tspan x="514">106298</tspan><tspan x="756">107498</tspan><tspan x="998">108698</tspan></text>
<text class="s3" y="102"><tspan x="272">56.80%</tspan><tspan x="514">56.80%</tspan><tspan x="756">56.80%</tspan><tspan x="998">56.80%</tspan></text>
</g>

<g id="r29" transform="translate(0,4295)">
<use href="#stf"/>
<g class="r" transform="translate(0,15)"><path class="s" d="M92.5 0H137"/><circle cx="32"/><circle cx="62.25"/><circle cx="92.5"/><circle cx="153"/><circle cx="183.25"/><circle cx="213.5"/><circle cx="243.75"/></g>
<g class="g"><use class="n" href="#st" x="274"/><use class="n" href="#st" x="304.25"/><use class="n" href="#st" x="334.5"/><use class="n" href="#st" x="364.75"/><use class="n" href="#st" x="395"/><use class="n" href="#st" x="425.25"/><use class="n" href="#st" x="455.5"/><use class="n" href="#st" x="485.75"/></g>
<g class="y" transform="translate(0,30)"><circle cx="516"/><circle cx="546.25"/><circle cx="576.5"/><circle cx="606.75"/><circle cx="637"/><circle cx="667.25"/><circle cx="697.5"/><circle cx="758"/><circle cx="818.5"/><circle cx="879"/><circle cx="939.5"/></g>
<g class="o" transform="translate(0,60)"><circle cx="788.25"/><circle cx="848.75"/><circle cx="909.25"/><circle cx="969.75"/></g>
<rect class="or" x="213.5" width="8.5" height="60"/>
<rect class="og" x="274" width="212" height="60"/>
<rect class="ob" x="222" width="778" height="60"/>
<text class="tp" y="-21"><tspan x="31">♩=130</tspan><tspan x="212.5">♩=133</tspan><tspan x="273">♩=132</tspan><tspan x="605.75">♩=131</tspan><tspan x="757">♩=132</tspan></text>
<text class="mn" y="-8"><tspan x="32">117</tspan><tspan x="274">118</tspan><tspan x="516">119</tspan><tspan x="758">120</tspan></text>
<text class="s1" y="76"><tspan x="272">184</tspan><tspan x="514">200</tspan><tspan x="756">175</tspan><tspan x="998">200</tspan></text>
<text class="s2" y="89"><tspan x="272">110102</tspan><tspan x="514">112502</tspan><tspan x="756">114602</tspan><tspan x="998">117002</tspan></text>
<text class="s3" y="102"><tspan x="272">54.17%</tspan><tspan x="514">66.67%</tspan><tspan x="756">54.17%</tspan><tspan x="998">41.67%</tspan></text>
</g>

<g id="r30" transform="translate(0,4436)">
<use href="#stf"/>
<g class="y" transform="translate(0,30)"><circle cx="32"/><circle cx="92.5"/><circle cx="153"/><circle cx="213.5"/><circle cx="274"/><circle cx="334.5"/><circle cx="395"/><circle cx="455.5"/><circle cx="516"/><circle cx="576.5"/><circle cx="637"/><circle cx="697.5"/><circle cx="758"/><circle cx="818.5"/><circle cx="848.75"/><circle cx="879"/><circle cx="939.5"/></g>
<g class="o" transform="translate(0,60)"><circle cx="62.25"/><circle cx="122.75"/><circle cx="183.25"/><circle cx="243.75"/><circle cx="304.25"/><circle cx="364.75"/><circle cx="425.25"/><circle cx="485.75"/><circle cx="546.25"/><circle cx="606.75"/><circle cx="667.25"/><circle cx="727.75"/><circle cx="788.25"/><circle cx="909.25"/><circle cx="969.75"/></g>
<rect class="ob" x="32" width="968" height="60"/>
<text class="tp" y="-21"><tspan x="31">♩=129</tspan><tspan x="273">♩=134</tspan><tspan x="515">♩=130</tspan><tspan x="757">♩=132</tspan></text>
<text class="mn" y="-8"><tspan x="32">121</tspan><tspan x="274">122</tspan><tspan x="516">123</tspan><tspan x="758">124</tspan></text>
<text class="s1" y="76"><tspan x="272">200</tspan><tspan x="514">200</tspan><tspan x="756">200</tspan><tspan x="998">200</tspan></text>
<text class="s2" y="89"><tspan x="272">119402</tspan><tspan x="514">121802</tspan><tspan x="756">124202</tspan><tspan x="998">126602</tspan></text>
<text class="s3" y="102"><tspan x="272">29.17%</tspan><tspan x="514">16.67%</tspan><tspan x="756">4.17%</tspan><tspan x="998">0.00%</tspan></text>
</g>

<g id="r31" transform="translate(0,4577)">
<use href="#stf"/>
<g class="y" transform="translate(0,30)"><circle cx="32"/><circle cx="92.5"/><circle cx="153"/><circle cx="213.5"/><use class="n" href="#st" x="274"/><use class="n" href="#st" x="334.5"/><use class="n" href="#st" x="395"/><circle cx="516"/><circle cx="546.25"/><circle cx="576.5"/><circle cx="606.75"/><circle cx="637"/><circle cx="667.25"/><circle cx="697.5"/><circle cx="727.75"/></g>
<g class="o" transform="translate(0,60)"><circle cx="62.25"/><circle cx="122.75"/><circle cx="183.25"/><circle cx="243.75"/><use class="n" href="#st" x="304.25"/><use class="n" href="#st" x="364.75"/><use class="n" href="#st" x="425.25"/><use class="n" href="#st" x="455.5"/></g>
<g class="r" transform="translate(0,15)"><use class="n" href="#st" x="485.75"/></g>
<g class="b" transform="translate(0,45)"><circle cx="758"/><circle cx="788.25"/><circle cx="818.5"/><circle cx="848.75"/><circle cx="879"/><circle cx="909.25"/><circle cx="939.5"/><circle cx="969.75"/></g>
<rect class="og" x="274" width="212" height="60"/>
<rect class="ob" x="32" width="322" height="60"/>
<rect class="or" x="354" width="10" height="60"/>
<text class="tp" y="-21"><tspan x="31">♩=133</tspan><tspan x="515">♩=132</tspan><tspan x="757">♩=131</tspan></text>
<text class="mn" y="-8"><tspan x="32">125</tspan><tspan x="274">126</tspan><tspan x="516">127</tspan><tspan x="758">128</tspan></text>
<text class="s1" y="76"><tspan x="272">200</tspan><tspan x="514">200</tspan><tspan x="756">200</tspan><tspan x="998">200</tspan></text>
<text class="s2" y="89"><tspan x="272">129002</tspan><tspan x="514">130802</tspan><tspan x="756">132002</tspan><tspan x="998">133202</tspan></text>
<text class="s3" y="102"><tspan x="272">0.00%</tspan><tspan x="514">25.00%</tspan><tspan x="756">25.00%</tspan><tspan x="998">25.00%</tspan></text>
</g>

<g id="r32" transform="translate(0,4718)">
<rect class="pl" x="758" y="-10" width="212" height="80"/>
<use href="#stf"/>
<g class="o" transform="translate(0,60)"><circle cx="32"/><circle cx="62.25"/><circle cx="92.5"/><circle cx="122.75"/><circle cx="153"/><circle cx="183.25"/><circle cx="213.5"/><circle cx="243.75"/></g>
<g class="g"><circle cx="274"/><circle cx="304.25"/><circle cx="334.5"/><circle cx="455.5"/><circle cx="485.75"/></g>
<g class="r" transform="translate(0,15)"><circle cx="364.75"/><circle cx="395"/><circle cx="425.25"/></g>
<g class="y" transform="translate(0,30)"><circle cx="516"/><circle cx="546.25"/><circle cx="576.5"/><circle cx="606.75"/><circle cx="637"/><circle cx="667.25"/><circle cx="697.5"/><circle cx="727.75"/></g>
<g class="b" transform="translate(0,45)"><use class="n" href="#st" x="758"/><use class="n" href="#st" x="788.25"/><use class="n" href="#st" x="818.5"/><use class="n" href="#st" x="848.75"/><use class="n" href="#st" x="879"/><use class="n" href="#st" x="909.25"/><use class="n" href="#st" x="939.5"/><use class="n" href="#st" x="969.75"/></g>
<rect class="og" x="758" width="212" height="60"/>
<text class="tp" y="-21"><tspan x="31">♩=133</tspan><tspan x="212.5">♩=138</tspan><tspan x="273">♩=130</tspan><tspan x="454.5">♩=136</tspan><tspan x="515">♩=130</tspan><tspan x="696.5">♩=134</tspan></text>
<text class="mn" y="-8"><tspan x="32">129</tspan><tspan x="274">130</tspan><tspan x="516">131</tspan><tspan x="758">132</tspan></text>
<text class="s1" y="76"><tspan x="272">200</tspan><tspan x="514">200</tspan><tspan x="756">200</tspan><tspan x="998">200</tspan></text>
<text class="s2" y="89"><tspan x="272">134402</tspan><tspan x="514">135602</tspan><tspan x="756">136802</tspan><tspan x="998">138002</tspan></text>
<text class="s3" y="102"><tspan x="272">25.00%</tspan><tspan x="514">25.00%</tspan><tspan x="756">25.00%</tspan><tspan x="998">49.98%</tspan></text>
</g>

<g id="r33" transform="translate(0,4859)">
<use href="#stf"/>
<g class="o" transform="translate(0,60)"><circle cx="32"/><circle cx="62.25"/><circle cx="92.5"/><circle cx="122.75"/><circle cx="153"/><circle cx="183.25"/><circle cx="213.5"/><circle cx="243.75"/></g>
<g class="g"><circle cx="274"/><circle cx="304.25"/><circle cx="334.5"/><circle cx="455.5"/><circle cx="485.75"/></g>
<g class="r" transform="translate(0,15)"><circle cx="364.75"/><circle cx="395"/><circle cx="425.25"/></g>
<g class="y" transform="translate(0,30)"><circle cx="516"/><circle cx="546.25"/><circle cx="576.5"/><circle cx="606.75"/><circle cx="637"/><circle cx="667.25"/><circle cx="697.5"/><circle cx="727.75"/></g>
<g class="b" transform="translate(0,45)"><circle cx="758"/><circle cx="788.25"/><circle cx="818.5"/><circle cx="848.75"/><circle cx="879"/><circle cx="909.25"/><circle cx="939.5"/><circle cx="969.75"/></g>
<rect class="ob" x="32" width="968" height="60"/>
<text class="tp" y="-21"><tspan x="31">♩=131</tspan><tspan x="273">♩=132</tspan><tspan x="605.75">♩=130</tspan><tspan x="757">♩=133</tspan></text>
<text class="mn" y="-8"><tspan x="32">133</tspan><tspan x="274">134</tspan><tspan x="516">135</tspan><tspan x="758">136</tspan></text>
<text class="s1" y="76"><tspan x="272">200</tspan><tspan x="514">200</tspan><tspan x="756">200</tspan><tspan x="998">200</tspan></text>
<text class="s2" y="89"><tspan x="272">140402</tspan><tspan x="514">142802</tspan><tspan x="756">145202</tspan><tspan x="998">147602</tspan></text>
<text class="s3" y="102"><tspan x="272">37.48%</tspan><tspan x="514">24.98%</tspan><tspan x="756">12.48%</tspan><tspan x="998">0.00%</tspan></text>
</g>

<g id="r34" transform="translate(0,5000)">
<use href="#stf"/>
<g class="o" transform="translate(0,60)"><circle cx="32"/><circle cx="62.25"/><circle cx="92.5"/><circle cx="122.75"/><circle cx="153"/><circle cx="183.25"/><circle cx="213.5"/><circle cx="243.75"/><circle cx="576.5"/><circle cx="667.25"/><use class="n" href="#st" x="758"/><use class="n" href="#st" x="848.75"/><use class="n" href="#st" x="939.5"/></g>
<g class="g"><circle cx="274"/><circle cx="304.25"/><circle cx="334.5"/></g>
<g class="r" transform="translate(0,15)"><circle cx="364.75"/><circle cx="395"/><circle cx="425.25"/><circle cx="455.5"/></g>
<g class="y" transform="translate(0,30)"><path class="s" d="M606.75 0H651.5M697.5 0H742M788.25 0H833.5M879 0H924M969.75 0H1000"/><circle cx="485.75"/><circle cx="516"/><circle cx="606.75"/><circle cx="697.5"/><use class="n" href="#st" x="788.25"/><use class="n" href="#st" x="879"/><use class="n" href="#st" x="969.75"/></g>
<rect class="ob" x="32" width="484" height="60"/>
<rect class="og" x="758" width="242" height="60"/>
<text class="tp" y="-21"><tspan x="31">♩=130</tspan><tspan x="273">♩=134</tspan><tspan x="757">♩=126</tspan><tspan x="847.75">♩=130</tspan><tspan x="968.75">♩=136</tspan></text>
<text class="mn" y="-8"><tspan x="32">137</tspan><tspan x="274">138</tspan><tspan x="516">139</tspan><tspan x="758">140</tspan></text>
<text class="s1" y="76"><tspan x="272">200</tspan><tspan x="514">200</tspan><tspan x="756">143</tspan><tspan x="998">174</tspan></text>
<text class="s2" y="89"><tspan x="272">150002</tspan><tspan x="514">152402</tspan><tspan x="756">153410</tspan><tspan x="998">154454</tspan></text>
<text class="s3" y="102"><tspan x="272">0.00%</tspan><tspan x="514">0.00%</tspan><tspan x="756">0.00%</tspan><tspan x="998">31.80%</tspan></text>
</g>

<g id="r35" transform="translate(0,5141)">
<use href="#stf"/>
<g class="y" transform="translate(0,30)"><path class="s" d="M32 0H45.5M92.5 0H137M183.25 0H243.75M274 0H318.5M848.75 0H984"/><circle cx="92.5"/><circle cx="183.25"/><circle cx="258.9"/><circle cx="274"/><circle cx="758"/><circle cx="818.5"/><circle cx="848.75"/></g>
<g class="o" transform="translate(0,60)"><path class="s" d="M606.75 0H682M697.5 0H742"/><circle cx="62.25"/><circle cx="153"/><circle cx="516"/><circle cx="576.5"/><circle cx="606.75"/><circle cx="697.5"/></g>
<g class="r" transform="translate(0,15)"><circle cx="334.5"/><circle cx="364.75"/><circle cx="395"/><circle cx="425.25"/><circle cx="455.5"/><circle cx="485.75"/></g>
<rect class="og" x="32" width="13.5" height="60"/>
<text class="tp" y="-21"><tspan x="91.5">♩=135</tspan><tspan x="273">♩=133</tspan><tspan x="454.5">♩=130</tspan><tspan x="696.5">♩=133</tspan><tspan x="757">♩=131</tspan></text>
<text class="mn" y="-8"><tspan x="32">141</tspan><tspan x="274">142</tspan><tspan x="516">143</tspan><tspan x="758">144</tspan></text>
<text class="s1" y="76"><tspan x="272">149</tspan><tspan x="514">184</tspan><tspan x="756">124</tspan><tspan x="998">102</tspan></text>
<text class="s2" y="89"><tspan x="272">155348</tspan><tspan x="514">156452</tspan><tspan x="756">157196</tspan><tspan x="998">157808</tspan></text>
<text class="s3" y="102"><tspan x="272">32.65%</tspan><tspan x="514">32.65%</tspan><tspan x="756">32.65%</tspan><tspan x="998">32.65%</tspan></text>
</g>

<g id="r36" transform="translate(0,5282)">
<use href="#stf"/>
<g class="g"><circle cx="183.25"/><circle cx="243.75"/></g>
<g class="r" transform="translate(0,15)"><path class="s" d="M122.75 0H167.5"/><circle cx="32"/><circle cx="92.5"/><circle cx="122.75"/><circle cx="213.5"/><use class="n" href="#st" x="425.25"/><circle cx="909.25"/></g>
<g class="y" transform="translate(0,30)"><path class="s" d="M364.75 0H409.5M455.5 0H500M848.75 0H893.5M939.5 0H984"/><use class="n" href="#st" x="274"/><use class="n" href="#st" x="334.5"/><use class="n" href="#st" x="364.75"/><use class="n" href="#st" x="455.5"/><circle cx="758"/><circle cx="818.5"/><circle cx="848.75"/><circle cx="939.5"/></g>
<g class="o" transform="translate(0,60)"><path class="s" d="M606.75 0H682M697.5 0H742"/><circle cx="516"/><circle cx="576.5"/><circle cx="606.75"/><circle cx="697.5"/></g>
<rect class="og" x="274" width="226" height="60"/>
<rect class="or" x="818.5" width="10.5" height="60"/>
<rect class="ob" x="829" width="171" height="60"/>
<text class="tp" y="-21"><tspan x="31">♩=132</tspan><tspan x="515">♩=133</tspan><tspan x="847.75">♩=128</tspan><tspan x="938.5">♩=134</tspan></text>
<text class="mn" y="-8"><tspan x="32">145</tspan><tspan x="274">146</tspan><tspan x="516">147</tspan><tspan x="758">148</tspan></text>
<text class="s1" y="76"><tspan x="272">159</tspan><tspan x="514">143</tspan><tspan x="756">124</tspan><tspan x="998">143</tspan></text>
<text class="s2" y="89"><tspan x="272">158762</tspan><tspan x="514">159620</tspan><tspan x="756">160364</tspan><tspan x="998">161930</tspan></text>
<text class="s3" y="102"><tspan x="272">32.65%</tspan><tspan x="514">62.75%</tspan><tspan x="756">62.75%</tspan><tspan x="998">54.02%</tspan></text>
</g>

<g id="r37" transform="translate(0,5423)">
<use href="#stf"/>
<g class="g"><circle cx="183.25"/><circle cx="243.75"/></g>
<g class="r" transform="translate(0,15)"><path class="s" d="M122.75 0H167.5"/><circle cx="32"/><circle cx="92.5"/><circle cx="122.75"/><circle cx="213.5"/><circle cx="909.25"/></g>
<g class="y" transform="translate(0,30)"><path class="s" d="M334.5 0H379M455.5 0H500M848.75 0H893.5M939.5 0H984"/><circle cx="274"/><circle cx="334.5"/><circle cx="395"/><circle cx="425.25"/><circle cx="455.5"/><circle cx="758"/><circle cx="818.5"/><circle cx="848.75"/><circle cx="939.5"/></g>
<g class="o" transform="translate(0,60)"><path class="s" d="M606.75 0H682M697.5 0H742"/><circle cx="516"/><circle cx="576.5"/><circle cx="606.75"/><circle cx="697.5"/></g>
<rect class="ob" x="32" width="968" height="60"/>
<text class="tp" y="-21"><tspan x="31">♩=132</tspan><tspan x="273">♩=131</tspan><tspan x="515">♩=139</tspan><tspan x="575.5">♩=132</tspan><tspan x="757">♩=130</tspan></text>
<text class="mn" y="-8"><tspan x="32">149</tspan><tspan x="274">150</tspan><tspan x="516">151</tspan><tspan x="758">152</tspan></text>
<text class="s1" y="76"><tspan x="272">159</tspan><tspan x="514">143</tspan><tspan x="756">124</tspan><tspan x="998">143</tspan></text>
<text class="s2" y="89"><tspan x="272">163838</tspan><tspan x="514">165554</tspan><tspan x="756">167042</tspan><tspan x="998">168758</tspan></text>
<text class="s3" y="102"><tspan x="272">41.52%</tspan><tspan x="514">29.02%</tspan><tspan x="756">16.52%</tspan><tspan x="998">4.02%</tspan></text>
</g>

<g id="r38" transform="translate(0,5564)">
<use href="#stf"/>
<g class="g"><circle cx="183.25"/></g>
<g class="r" transform="translate(0,15)"><path class="s" d="M122.75 0H167.5M213.5 0H274"/><circle cx="32"/><circle cx="92.5"/><circle cx="122.75"/><circle cx="213.5"/></g>
<g class="y" transform="translate(0,30)"><path class="s" d="M455.5 0H500"/><circle cx="304.25"/><circle cx="364.75"/><circle cx="425.25"/><circle cx="455.5"/></g>
<g class="o" transform="translate(0,60)"><path class="s" d="M516 0H984"/><circle cx="516"/></g>
<rect class="ob" x="32" width="76.7" height="60"/>
<rect class="or" x="108.7" width="13.8" height="60"/>
<text class="tp" y="-21"><tspan x="31">♩=134</tspan><tspan x="182.25">♩=131</tspan><tspan x="273">♩=133</tspan><tspan x="515">♩=132</tspan><tspan x="757">♩=133</tspan><tspan x="983">♩=129</tspan></text>
<text class="mn" y="-8"><tspan x="32">153</tspan><tspan x="274">154</tspan><tspan x="516">155</tspan><tspan x="758">156</tspan></text>
<text class="s1" y="76"><tspan x="272">146</tspan><tspan x="514">109</tspan><tspan x="756">73</tspan><tspan x="998">45</tspan></text>
<text class="s2" y="89"><tspan x="272">170084</tspan><tspan x="514">170738</tspan><tspan x="756">171176</tspan><tspan x="998">171446</tspan></text>
<text class="s3" y="102"><tspan x="272">0.00%</tspan><tspan x="514">0.00%</tspan><tspan x="756">0.00%</tspan><tspan x="998">0.00%</tspan></text>
</g>

<g id="r39" transform="translate(0,5705)">
<use href="#stf"/>
<g class="b" transform="translate(0,45)"><path class="s" d="M32 0H258"/><circle cx="32"/></g>
<g class="y" transform="translate(0,30)"><path class="s" d="M274 0H500"/><circle cx="274"/></g>
<g class="o" transform="translate(0,60)"><path class="s" d="M516 0H984"/><circle cx="516"/></g>
<text class="tp" y="-21"><tspan x="515">♩=133</tspan><tspan x="968.75">♩=124</tspan></text>
<text class="mn" y="-8"><tspan x="32">157</tspan><tspan x="274">158</tspan><tspan x="516">159</tspan><tspan x="758">160</tspan></text>
<text class="s1" y="76"><tspan x="272">70</tspan><tspan x="514">70</tspan><tspan x="756">73</tspan><tspan x="998">45</tspan></text>
<text class="s2" y="89"><tspan x="272">171866</tspan><tspan x="514">172286</tspan><tspan x="756">172724</tspan><tspan x="998">172994</tspan></text>
<text class="s3" y="102"><tspan x="272">0.00%</tspan><tspan x="514">0.00%</tspan><tspan x="756">0.00%</tspan><tspan x="998">0.00%</tspan></text>
</g>

<g id="r40" transform="translate(0,5846)">
<use href="#stf"/>
<g class="b" transform="translate(0,45)"><path class="s" d="M32 0H258"/><circle cx="32"/></g>
<g class="y" transform="translate(0,30)"><path class="s" d="M274 0H500"/><circle cx="274"/></g>
<g class="o" transform="translate(0,60)"><path class="s" d="M516 0H1000"/><circle cx="516"/></g>
<text class="tp" y="-21"><tspan x="31">♩=123</tspan><tspan x="273">♩=103</tspan><tspan x="454.5">♩=92</tspan><tspan x="575.5">♩=110</tspan><tspan x="696.5">♩=103</tspan><tspan x="878">♩=92</tspan></text>
<text class="mn" y="-8"><tspan x="32">161</tspan><tspan x="274">162</tspan><tspan x="516">163</tspan><tspan x="758">164</tspan></text>
<text class="s1" y="76"><tspan x="272">70</tspan><tspan x="514">70</tspan><tspan x="756">73</tspan><tspan x="998">48</tspan></text>
<text class="s2" y="89"><tspan x="272">173414</tspan><tspan x="514">173834</tspan><tspan x="756">174272</tspan><tspan x="998">174560</tspan></text>
<text class="s3" y="102"><tspan x="272">0.00%</tspan><tspan x="514">0.00%</tspan><tspan x="756">0.00%</tspan><tspan x="998">0.00%</tspan></text>
</g>

<g id="r41" transform="translate(0,5987)">
<use href="#stf1"/>
<g class="o" transform="translate(0,60)"><path class="s" d="M32 0H151.5"/></g>
<text class="tp" y="-21"><tspan x="31">♩=110</tspan></text>
<text class="mn" y="-8"><tspan x="32">165</tspan></text>
<text class="s1" y="76"><tspan x="272">24</tspan></text>
<text class="s2" y="89"><tspan x="272">174704</tspan></text>
<text class="s3" y="102"><tspan x="272">0.00%</tspan></text>
</g>
</g>
</svg>
